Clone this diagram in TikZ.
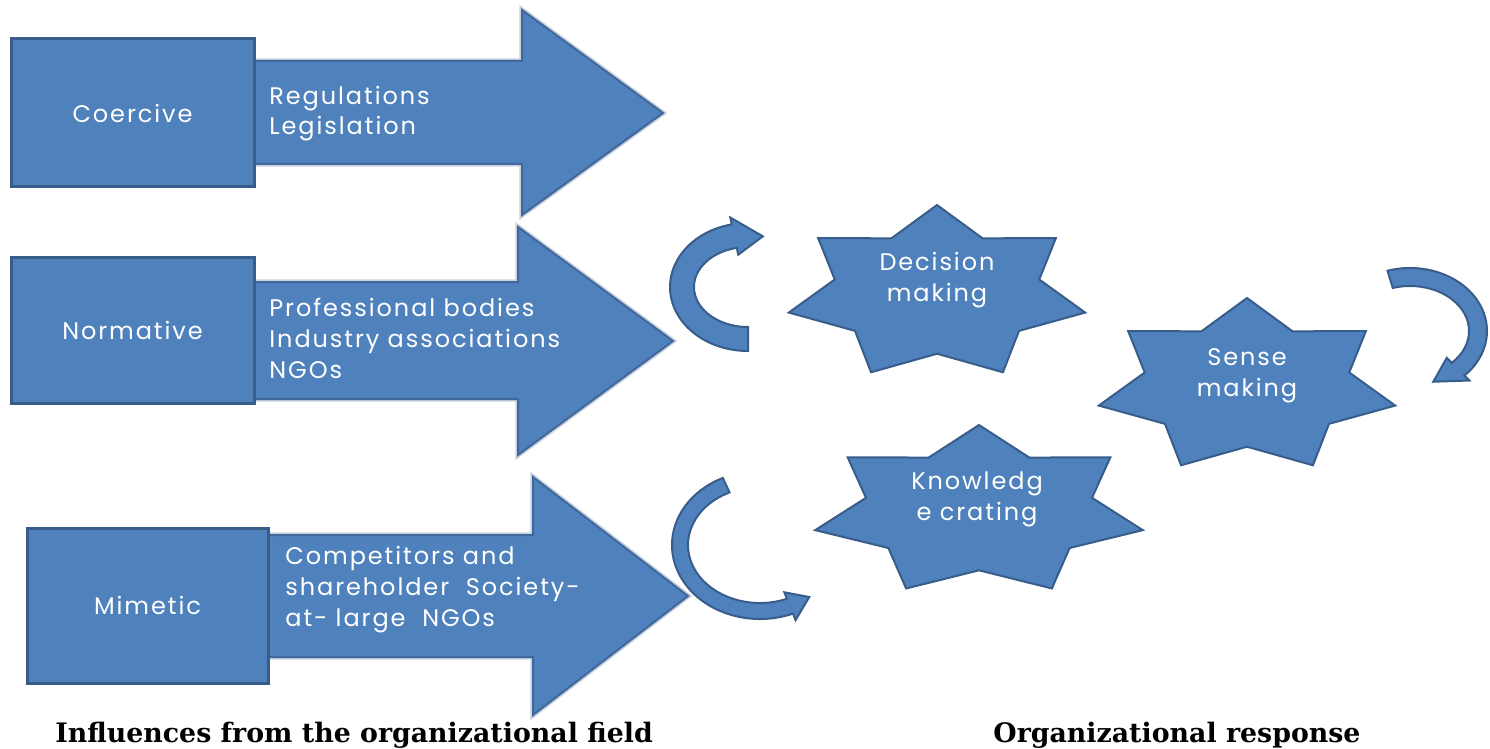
\documentclass[tikz,border=0pt]{standalone}
\usepackage{fontspec}
\newfontfamily\shapefont[LetterSpace=8]{Poppins}
\newfontfamily\labelfont{DejaVu Serif}
\definecolor{shapeblue}{HTML}{4F81BD}
\definecolor{boxedge}{HTML}{385D8A}
\definecolor{arrowedge}{HTML}{41689A}
\definecolor{edgeglow}{HTML}{C8D1DE}
\tikzset{
  infobox/.style={draw=boxedge, fill=shapeblue, line width=1.5pt, minimum width=121.5pt,
    text=white, font=\shapefont\fontsize{12}{15.5}\selectfont},
  blockarrow/.style={fill=shapeblue, draw=arrowedge, line width=1pt,
    preaction={draw=edgeglow, line width=2.6pt}},
  arrowtext/.style={text=white, font=\shapefont\fontsize{12}{15.5}\selectfont,
    align=left, anchor=base west, inner sep=0pt},
  starshape/.style={fill=shapeblue, draw=boxedge, line width=1pt},
  startext/.style={text=white, font=\shapefont\fontsize{12}{15.5}\selectfont, align=center,
    anchor=base, inner sep=0pt},
  curlarrow/.style={fill=shapeblue, draw=boxedge, line width=1pt},
  caption/.style={font=\labelfont\bfseries\fontsize{13.4}{16}\selectfont, anchor=base west, inner sep=0pt}
}
\begin{document}
\begin{tikzpicture}[x=0.5pt, y=-0.5pt]
	\useasboundingbox (0,0) rectangle (1490,749);

	% block arrows of the three pressures

	\draw[blockarrow] (240,61) -- (522,61) -- (522,10) -- (663,113) -- (522,215) -- (522,164) -- (240,164) -- cycle;
	\draw[blockarrow] (240,282) -- (518,282) -- (518,227) -- (673,341) -- (518,455) -- (518,399) -- (240,399) -- cycle;
	\draw[blockarrow] (250,535) -- (533,535) -- (533,477) -- (688,596) -- (533,715) -- (533,657) -- (250,657) -- cycle;

	% boxes

	\node[infobox, minimum height=74pt] (coercive) at (132.5,113) {Coercive};
	\node[infobox, minimum height=73pt] (normative) at (132.5,330) {Normative};
	\node[infobox, minimum width=120.5pt, minimum height=77.5pt] (mimetic) at (147.5,605.5) {Mimetic};

	% texts on the arrows (placed at the baseline of the last line)

	\node[arrowtext] (coercivesrc) at (269,135) {Regulations\\Legislation};
	\node[arrowtext] (normativesrc) at (269,378) {Professional bodies\\Industry associations\\NGOs};
	\node[arrowtext] (mimeticsrc) at (285,626) {Competitors and\\shareholder\ \ Society-\\at- large\ \ NGOs};

	% seven point stars

	\foreach \cx/\cy/\rx/\ry in {937/293/152/88, 1247/386/152/88, 979/511/168/86}
		\draw[starshape, shift={(\cx,\cy)}] plot[samples at={0,...,13}]
			({\rx*(1-0.31*mod(\x,2))*cos(270+\x*180/7)}, {\ry*(1-0.31*mod(\x,2))*sin(270+\x*180/7)}) -- cycle;

	\node[startext] (decision) at (937,301) {Decision\\making};
	\node[startext] (sense) at (1247,396) {Sense\\making};
	\node[startext] (knowledge) at (977,520) {Knowledg\\e crating};

	% curved arrows

	\foreach \cx/\cy/\rx/\ry/\t/\sa/\ea/\ta in {748/287/66/52/12/90/258/283, 760/545/80/66/8/245/68/52, 1410/331/68/54/9/253/405/430}
		\draw[curlarrow, shift={(\cx,\cy)}] (\sa:{\rx+\t} and {\ry+\t})
			arc[start angle=\sa, end angle=\ea, x radius=\rx+\t, y radius=\ry+\t]
			-- (\ea:{\rx+\t+7} and {\ry+\t+7}) -- (\ta:{\rx} and {\ry}) -- (\ea:{\rx-\t-7} and {\ry-\t-7})
			-- (\ea:{\rx-\t} and {\ry-\t})
			arc[start angle=\ea, end angle=\sa, x radius=\rx-\t, y radius=\ry-\t] -- cycle;

	\node[caption] (fieldlabel) at (55,742) {Influences from the organizational field};
	\node[caption] (responselabel) at (993,742) {Organizational response};

\end{tikzpicture}
\end{document}
